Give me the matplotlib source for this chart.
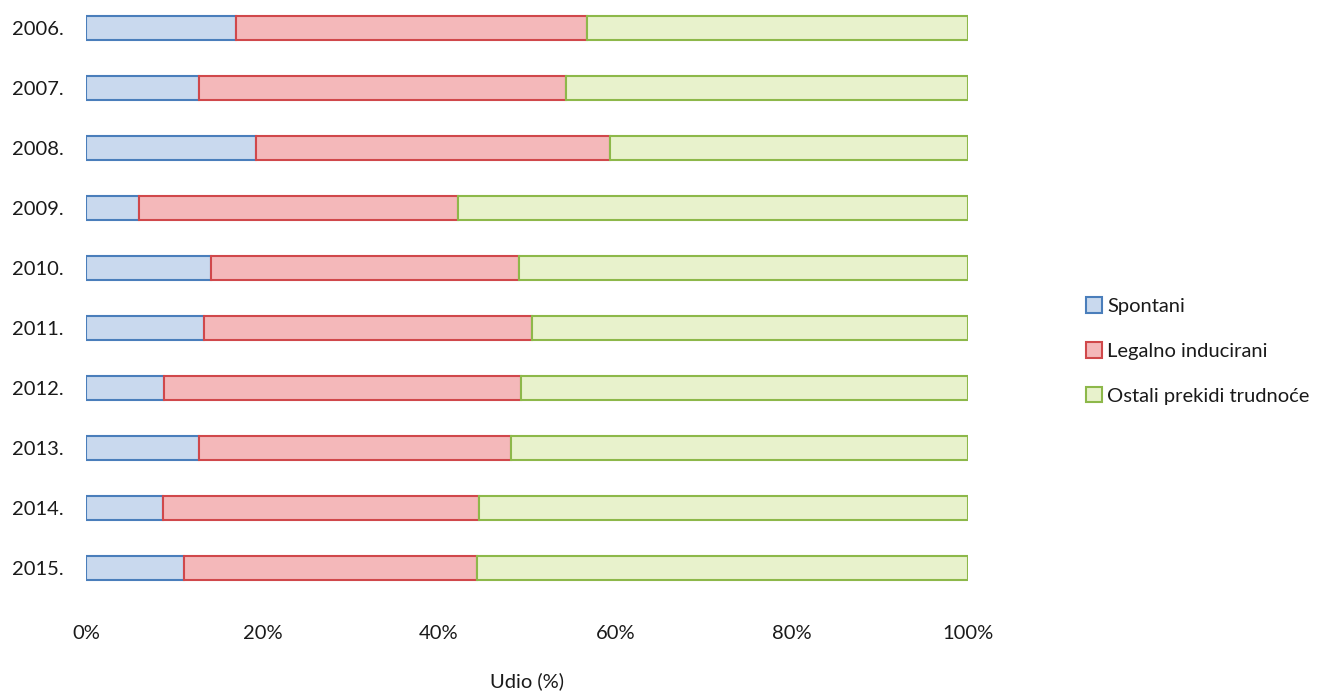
import matplotlib.pyplot as plt
import numpy as np

plt.rcParams['font.family'] = ['Lato', 'DejaVu Sans']

years = ['2006.', '2007.', '2008.', '2009.', '2010.', '2011.', '2012.', '2013.', '2014.', '2015.']
spontani = [17.0, 12.8, 19.3, 6.0, 14.2, 13.4, 8.8, 12.8, 8.7, 11.1]
legalno = [39.8, 41.6, 40.1, 36.2, 34.9, 37.2, 40.5, 35.4, 35.9, 33.2]
ostali = [100 - s - l for s, l in zip(spontani, legalno)]

series = [
    ('Spontani', spontani, '#c9d9ee', '#4a7ebb'),
    ('Legalno inducirani', legalno, '#f4b8ba', '#d0484b'),
    ('Ostali prekidi trudnoće', ostali, '#e8f2cc', '#8db84a'),
]

fig = plt.figure(figsize=(13.36, 6.97), dpi=100)
ax = fig.add_axes([86 / 1336, 97 / 697, 882 / 1336, 600 / 697])

y = np.arange(len(years))
left = np.zeros(len(years))
for name, vals, fc, ec in series:
    ax.barh(y, vals, left=left, height=0.4, color=fc, edgecolor=ec,
            linewidth=1.5, label=name)
    left += np.array(vals)

ax.set_xlim(0, 100)
ax.set_ylim(9.533, -0.467)
ax.set_yticks(y)
ax.set_yticklabels(years, fontsize=14.5, color='#1a1a1a')
ax.set_xticks([0, 20, 40, 60, 80, 100])
ax.set_xticklabels(['0%', '20%', '40%', '60%', '80%', '100%'], fontsize=14.5,
                   color='#1a1a1a')
ax.tick_params(axis='both', length=0)
ax.tick_params(axis='x', pad=18)
ax.tick_params(axis='y', pad=16)
ax.set_xlabel('Udio (%)', fontsize=14.5, labelpad=22, color='#1a1a1a')
for s in ax.spines.values():
    s.set_visible(False)

ax.legend(loc='center left', bbox_to_anchor=(1068 / 1336, 346 / 697),
          bbox_transform=fig.transFigure, frameon=False, fontsize=14.5,
          handlelength=0.8, handleheight=0.8, handletextpad=0.25,
          labelspacing=1.35, labelcolor='#1a1a1a')

fig.savefig('out.png', dpi=100)
